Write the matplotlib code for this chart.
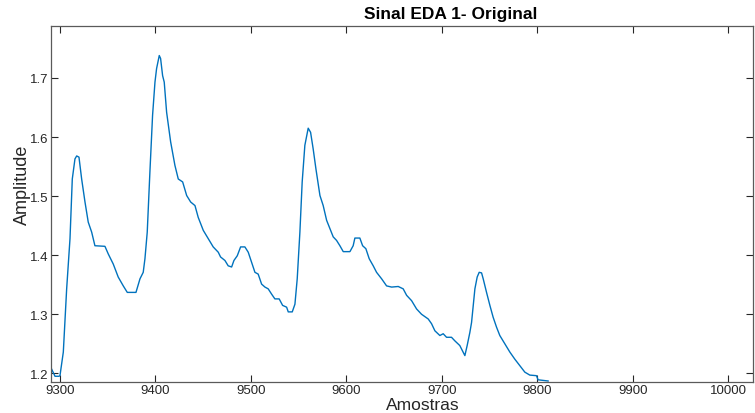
import matplotlib
matplotlib.use("Agg")
import matplotlib.pyplot as plt

plt.rcParams['font.family'] = ['Liberation Sans', 'DejaVu Sans']

samples = [9291.3, 9294.8, 9299.0, 9300.0, 9303.5, 9307.0, 9310.5, 9312.9, 9315.7, 9317.5,
           9319.9, 9322.7, 9326.2, 9329.6, 9333.2, 9336.6, 9347.1, 9350.6, 9355.8, 9361.0,
           9366.3, 9370.5, 9379.6, 9383.8, 9387.2, 9389.0, 9391.4, 9394.2, 9397.0, 9399.5,
           9401.2, 9404.0, 9405.4, 9407.5, 9409.2, 9411.7, 9415.9, 9420.4, 9423.9, 9428.5,
           9432.7, 9436.9, 9441.4, 9444.8, 9450.1, 9455.3, 9460.5, 9465.8, 9468.2, 9472.8,
           9476.2, 9479.8, 9482.2, 9485.7, 9489.2, 9493.7, 9497.2, 9500.7, 9504.2, 9507.6,
           9511.2, 9514.7, 9518.1, 9521.7, 9525.1, 9529.6, 9533.2, 9537.4, 9539.1, 9543.3,
           9546.1, 9548.5, 9551.3, 9553.7, 9556.5, 9560.0, 9562.5, 9565.2, 9568.1, 9572.3,
           9575.7, 9579.3, 9582.7, 9586.2, 9589.7, 9593.2, 9596.7, 9603.7, 9607.1, 9608.9,
           9614.1, 9617.0, 9620.4, 9623.9, 9628.1, 9631.6, 9636.9, 9642.1, 9647.4, 9654.3,
           9659.5, 9663.1, 9668.3, 9673.5, 9678.7, 9685.7, 9689.2, 9692.7, 9697.9, 9701.4,
           9704.9, 9710.1, 9713.6, 9718.8, 9724.1, 9726.5, 9729.3, 9731.1, 9734.6, 9737.0,
           9739.1, 9741.6, 9743.3, 9746.8, 9750.3, 9753.7, 9757.3, 9760.7, 9766.0, 9771.2,
           9776.4, 9781.7, 9786.9, 9792.1, 9799.1, 9800.8, 9811.3]

amplitude = [1.207, 1.195, 1.195, 1.196, 1.236, 1.343, 1.428, 1.529, 1.563, 1.568,
             1.566, 1.529, 1.490, 1.456, 1.439, 1.416, 1.415, 1.402, 1.385, 1.363,
             1.348, 1.337, 1.337, 1.360, 1.371, 1.394, 1.439, 1.541, 1.637, 1.693,
             1.716, 1.738, 1.733, 1.704, 1.693, 1.642, 1.592, 1.552, 1.529, 1.524,
             1.501, 1.490, 1.484, 1.464, 1.442, 1.428, 1.414, 1.405, 1.397, 1.391,
             1.382, 1.380, 1.391, 1.399, 1.414, 1.414, 1.405, 1.388, 1.371, 1.368,
             1.351, 1.346, 1.343, 1.334, 1.326, 1.326, 1.315, 1.312, 1.304, 1.304,
             1.317, 1.360, 1.439, 1.524, 1.586, 1.615, 1.608, 1.580, 1.546, 1.501,
             1.484, 1.459, 1.445, 1.431, 1.425, 1.416, 1.406, 1.406, 1.416, 1.429,
             1.429, 1.416, 1.411, 1.394, 1.382, 1.371, 1.360, 1.348, 1.346, 1.347,
             1.343, 1.332, 1.323, 1.309, 1.300, 1.292, 1.284, 1.272, 1.264, 1.267,
             1.261, 1.261, 1.255, 1.247, 1.230, 1.247, 1.269, 1.286, 1.343, 1.363,
             1.371, 1.370, 1.360, 1.337, 1.315, 1.295, 1.278, 1.264, 1.250, 1.236,
             1.224, 1.213, 1.202, 1.197, 1.196, 1.189, 1.187]

xticks = [9300, 9400, 9500, 9600, 9700, 9800, 9900, 10000]
yticks = [1.2, 1.3, 1.4, 1.5, 1.6, 1.7]

fig = plt.figure(figsize=(7.55, 4.14), dpi=100)
ax = fig.add_axes([51/755, 1 - 383/414, (753 - 51)/755, (383 - 27)/414])

ax.plot(samples, amplitude, color='#0072BD', lw=1.0)

ax.set_xlim(9290.6, 10025.9)
ax.set_ylim(1.1853, 1.788)
ax.set_xticks(xticks)
ax.set_xticklabels([str(t) for t in xticks])
ax.set_yticks(yticks)
ax.set_yticklabels([f"{t:.1f}" for t in yticks])

ax.tick_params(direction='in', length=5, width=0.8, colors='#262626',
               labelsize=9.5, top=True, right=True, pad=1.5)
ax.tick_params(axis='y', pad=1.5)
for s in ax.spines.values():
    s.set_color('#5a5a5a')
    s.set_linewidth(0.9)

fig.text(451/755, 1 - 15/414, "Sinal EDA 1- Original", ha='center', va='center',
         fontsize=12.5, fontweight='bold', color='black')
fig.text(423/755, 1 - 406/414, "Amostras", ha='center', va='center',
         fontsize=12.5, color='#262626')
fig.text(22/755, 1 - 185/414, "Amplitude", ha='center', va='center',
         fontsize=13, color='#262626', rotation=90)

fig.savefig("out.png", dpi=100)
